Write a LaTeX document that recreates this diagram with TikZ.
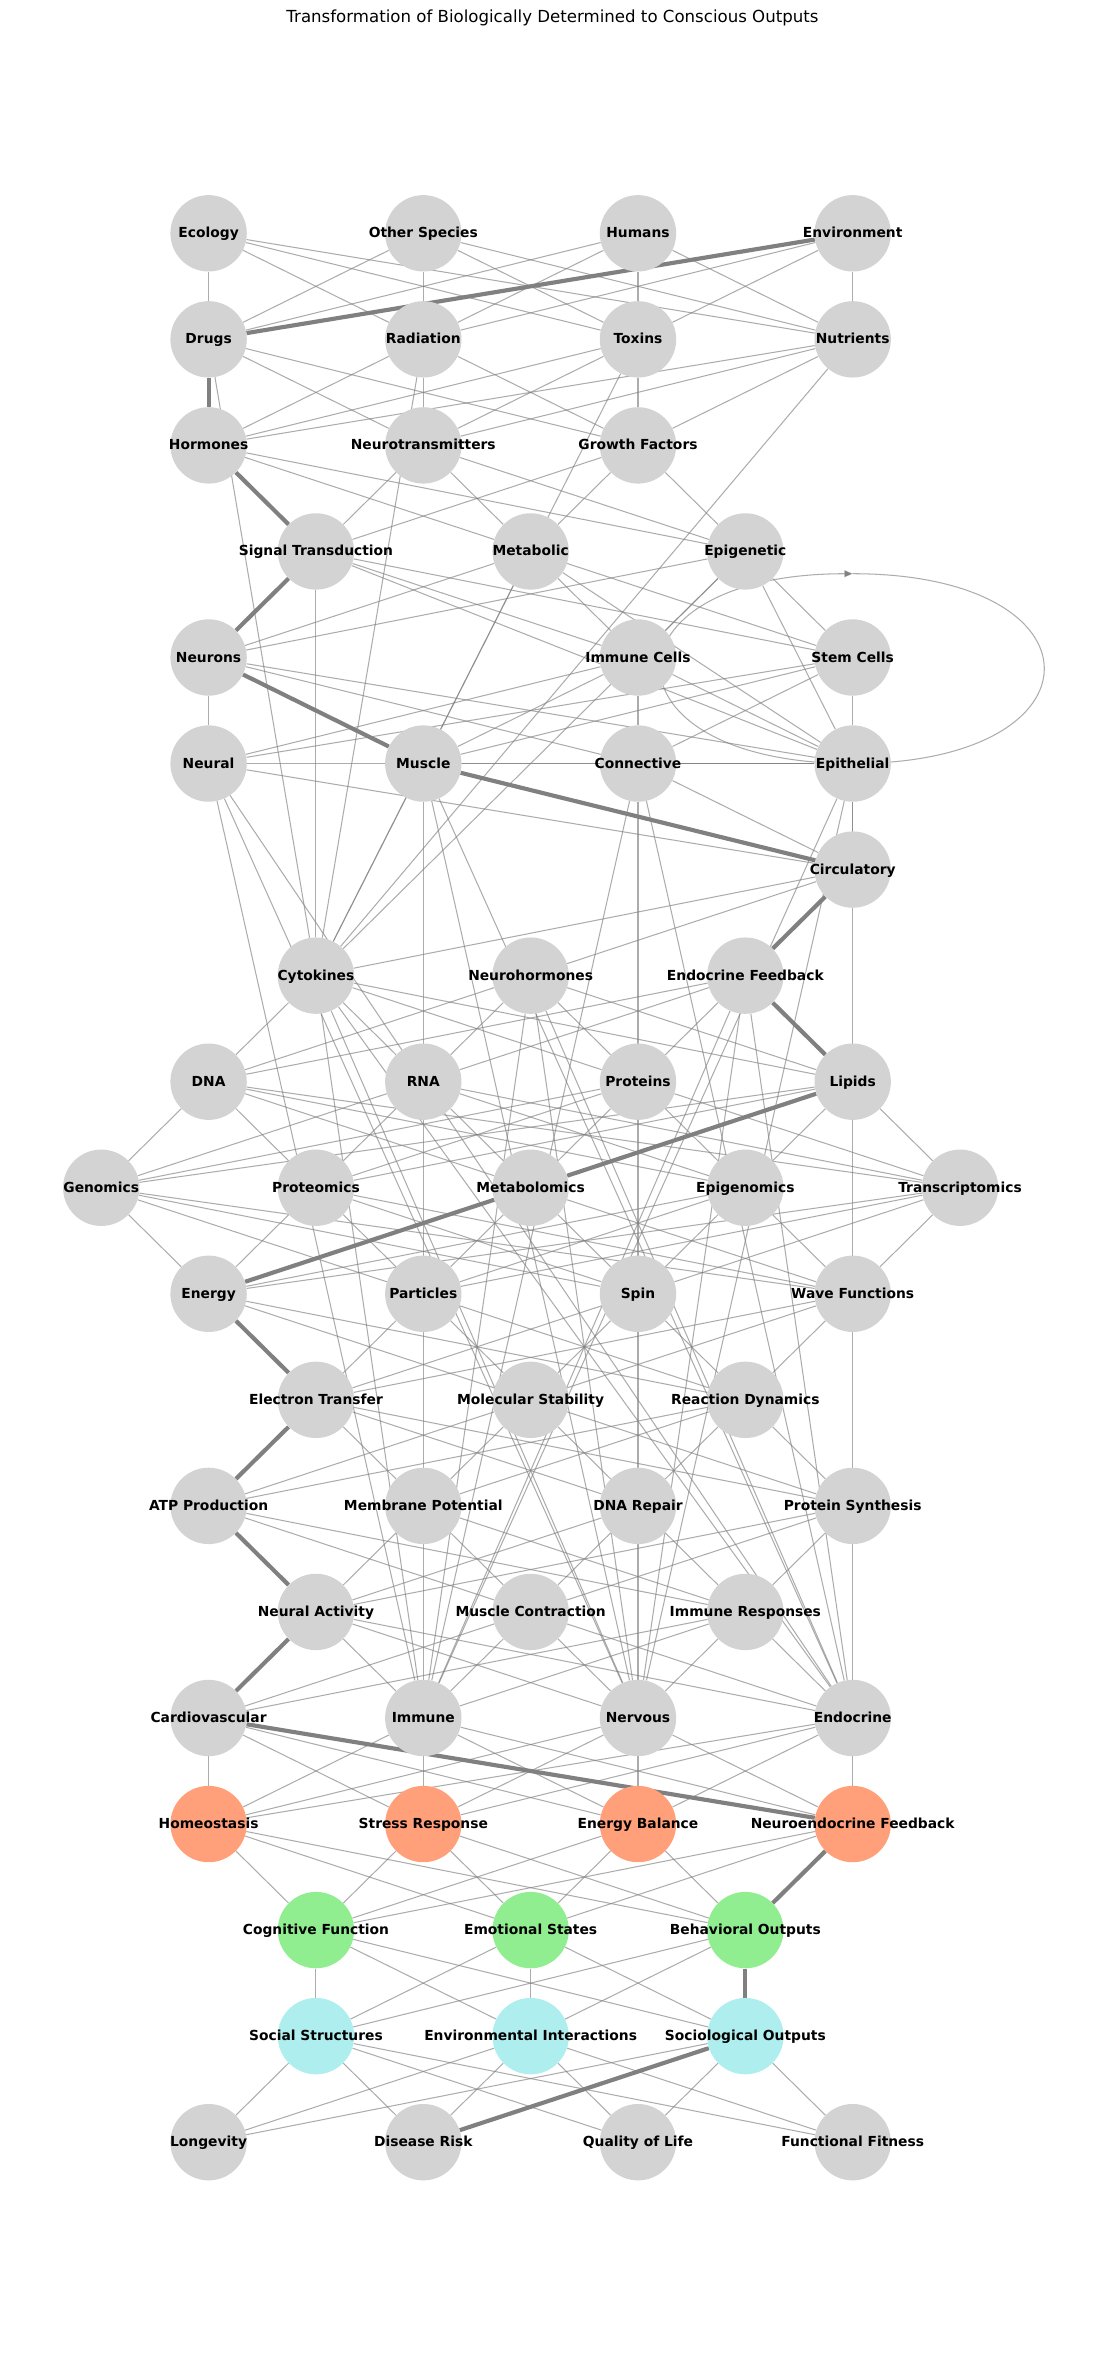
\documentclass[tikz,border=0pt]{standalone}
\usepackage{fontspec}
\setmainfont{DejaVu Sans}
\usepackage{xcolor}
\usetikzlibrary{arrows.meta,backgrounds}
\definecolor{nodegray}{HTML}{D3D3D3}
\definecolor{salmon}{HTML}{FFA07A}
\definecolor{mintgreen}{HTML}{90EE90}
\definecolor{paleteal}{HTML}{AFEEEE}

\begin{document}
\begin{tikzpicture}[
  x=5.4534cm, y=-2.6937cm,
  lbl/.style={font=\fontsize{10}{12}\selectfont\bfseries,
              text height=1.6ex, text depth=0.4ex, inner sep=0pt},
  cell/.style={circle, fill=nodegray, minimum size=1.94cm, inner sep=0pt,
               label={[lbl]center:#1}},
  hcell/.style={cell=#1, fill=salmon},
  gcell/.style={cell=#1, fill=mintgreen},
  tcell/.style={cell=#1, fill=paleteal},
  link/.style={draw=gray, draw opacity=0.65, line width=0.75pt},
  hilite/.style={draw=gray, line width=3pt},
  selfloop/.style={link, -{Triangle[length=6pt, width=5pt, fill=gray]}}
]
  \useasboundingbox (-0.9716,-2.2) rectangle (4.1751,19.988);
  \node[font=\fontsize{12}{14}\selectfont] (title) at (1.6018,-2.03)
    {Transformation of Biologically Determined to Conscious Outputs};

  \node[cell=Ecology]       (eco) at (0,0) {};
  \node[cell=Other Species] (oth) at (1,0) {};
  \node[cell=Humans]        (hum) at (2,0) {};
  \node[cell=Environment]   (env) at (3,0) {};

  \node[cell=Drugs]     (drg) at (0,1) {};
  \node[cell=Radiation] (rad) at (1,1) {};
  \node[cell=Toxins]    (tox) at (2,1) {};
  \node[cell=Nutrients] (nut) at (3,1) {};

  \node[cell=Hormones]          (hor) at (0,2) {};
  \node[cell=Neurotransmitters] (ntr) at (1,2) {};
  \node[cell=Growth Factors]    (grf) at (2,2) {};

  \node[cell=Signal Transduction] (sig) at (0.5,3) {};
  \node[cell=Metabolic]           (met) at (1.5,3) {};
  \node[cell=Epigenetic]          (epg) at (2.5,3) {};

  \node[cell=Neurons]      (neu) at (0,4) {};
  \node[cell=Immune Cells] (imc) at (2,4) {};
  \node[cell=Stem Cells]   (stc) at (3,4) {};

  \node[cell=Neural]     (nrl) at (0,5) {};
  \node[cell=Muscle]     (mus) at (1,5) {};
  \node[cell=Connective] (con) at (2,5) {};
  \node[cell=Epithelial] (epi) at (3,5) {};

  \node[cell=Circulatory] (cir) at (3,6) {};

  \node[cell=Cytokines]          (cyt) at (0.5,7) {};
  \node[cell=Neurohormones]      (nhr) at (1.5,7) {};
  \node[cell=Endocrine Feedback] (efb) at (2.5,7) {};

  \node[cell=DNA]      (dna) at (0,8) {};
  \node[cell=RNA]      (rna) at (1,8) {};
  \node[cell=Proteins] (pro) at (2,8) {};
  \node[cell=Lipids]   (lip) at (3,8) {};

  \node[cell=Genomics]        (gen) at (-0.5,9) {};
  \node[cell=Proteomics]      (prt) at (0.5,9) {};
  \node[cell=Metabolomics]    (mtb) at (1.5,9) {};
  \node[cell=Epigenomics]     (epm) at (2.5,9) {};
  \node[cell=Transcriptomics] (trs) at (3.5,9) {};

  \node[cell=Energy]         (ene) at (0,10) {};
  \node[cell=Particles]      (par) at (1,10) {};
  \node[cell=Spin]           (spi) at (2,10) {};
  \node[cell=Wave Functions] (wav) at (3,10) {};

  \node[cell=Electron Transfer]   (elt) at (0.5,11) {};
  \node[cell=Molecular Stability] (mol) at (1.5,11) {};
  \node[cell=Reaction Dynamics]   (rxn) at (2.5,11) {};

  \node[cell=ATP Production]     (atp) at (0,12) {};
  \node[cell=Membrane Potential] (mem) at (1,12) {};
  \node[cell=DNA Repair]         (dnr) at (2,12) {};
  \node[cell=Protein Synthesis]  (psy) at (3,12) {};

  \node[cell=Neural Activity]    (nac) at (0.5,13) {};
  \node[cell=Muscle Contraction] (mct) at (1.5,13) {};
  \node[cell=Immune Responses]   (imr) at (2.5,13) {};

  \node[cell=Cardiovascular] (car) at (0,14) {};
  \node[cell=Immune]         (imm) at (1,14) {};
  \node[cell=Nervous]        (nrv) at (2,14) {};
  \node[cell=Endocrine]      (end) at (3,14) {};

  \node[hcell=Homeostasis]             (hom) at (0,15) {};
  \node[hcell=Stress Response]         (str) at (1,15) {};
  \node[hcell=Energy Balance]          (eba) at (2,15) {};
  \node[hcell=Neuroendocrine Feedback] (nef) at (3,15) {};

  \node[gcell=Cognitive Function] (cog) at (0.5,16) {};
  \node[gcell=Emotional States]   (emo) at (1.5,16) {};
  \node[gcell=Behavioral Outputs] (beh) at (2.5,16) {};

  \node[tcell=Social Structures]          (soc) at (0.5,17) {};
  \node[tcell=Environmental Interactions] (evi) at (1.5,17) {};
  \node[tcell=Sociological Outputs]       (sgo) at (2.5,17) {};

  \node[cell=Longevity]          (lon) at (0,18) {};
  \node[cell=Disease Risk]       (dis) at (1,18) {};
  \node[cell=Quality of Life]    (qol) at (2,18) {};
  \node[cell=Functional Fitness] (fit) at (3,18) {};

  \begin{scope}[on background layer]
    \fill[white] (-0.9716,-2.2) rectangle (4.1751,19.988);
    \foreach \a in {eco,oth,hum,env} \foreach \b in {drg,rad,tox,nut} \draw[link] (\a) -- (\b);
    \foreach \a in {drg,rad,tox,nut} \foreach \b in {hor,ntr,grf,cyt} \draw[link] (\a) -- (\b);
    \foreach \a in {hor,ntr,grf,cyt} \foreach \b in {sig,met,epg} \draw[link] (\a) -- (\b);
    \foreach \a in {sig,met,epg} \foreach \b in {neu,epi,imc,stc} \draw[link] (\a) -- (\b);
    \foreach \a in {neu,imc,stc} \foreach \b in {nrl,mus,con,epi} \draw[link] (\a) -- (\b);
    \foreach \b in {nrl,mus,con} \draw[link] (epi) -- (\b);
    \foreach \a in {nrl,mus,con,epi} \foreach \b in {imm,nrv,end,cir} \draw[link] (\a) -- (\b);
    \foreach \a in {imm,nrv,end,cir} \foreach \b in {cyt,nhr,efb} \draw[link] (\a) -- (\b);
    \foreach \a in {cyt,nhr,efb} \foreach \b in {dna,rna,pro,lip} \draw[link] (\a) -- (\b);
    \foreach \a in {dna,rna,pro,lip} \foreach \b in {gen,prt,mtb,epm,trs} \draw[link] (\a) -- (\b);
    \foreach \a in {gen,prt,mtb,epm,trs} \foreach \b in {ene,par,spi,wav} \draw[link] (\a) -- (\b);
    \foreach \a in {ene,par,spi,wav} \foreach \b in {elt,mol,rxn} \draw[link] (\a) -- (\b);
    \foreach \a in {elt,mol,rxn} \foreach \b in {atp,mem,dnr,psy} \draw[link] (\a) -- (\b);
    \foreach \a in {atp,mem,dnr,psy} \foreach \b in {nac,mct,imr} \draw[link] (\a) -- (\b);
    \foreach \a in {nac,mct,imr} \foreach \b in {car,imm,nrv,end} \draw[link] (\a) -- (\b);
    \foreach \a in {car,imm,nrv,end} \foreach \b in {hom,str,eba,nef} \draw[link] (\a) -- (\b);
    \foreach \a in {hom,str,eba,nef} \foreach \b in {cog,emo,beh} \draw[link] (\a) -- (\b);
    \foreach \a in {cog,emo,beh} \foreach \b in {soc,evi,sgo} \draw[link] (\a) -- (\b);
    \foreach \a in {soc,evi,sgo} \foreach \b in {lon,dis,qol,fit} \draw[link] (\a) -- (\b);

    \path (epi.center) ++(0,-1.79) coordinate (looptop);
    \draw[selfloop] (looptop) .. controls +(1.19,0) and +(1.19,0) .. (epi.center)
                              .. controls +(-1.19,0) and +(-1.19,0) .. (looptop);

    \foreach \a/\b in {env/drg, drg/hor, hor/sig, sig/neu, neu/mus, mus/cir,
                       cir/efb, efb/lip, lip/mtb, mtb/ene, ene/elt, elt/atp,
                       atp/nac, nac/car, car/nef, nef/beh, beh/sgo, sgo/dis}
      \draw[hilite] (\a) -- (\b);
  \end{scope}
\end{tikzpicture}
\end{document}
